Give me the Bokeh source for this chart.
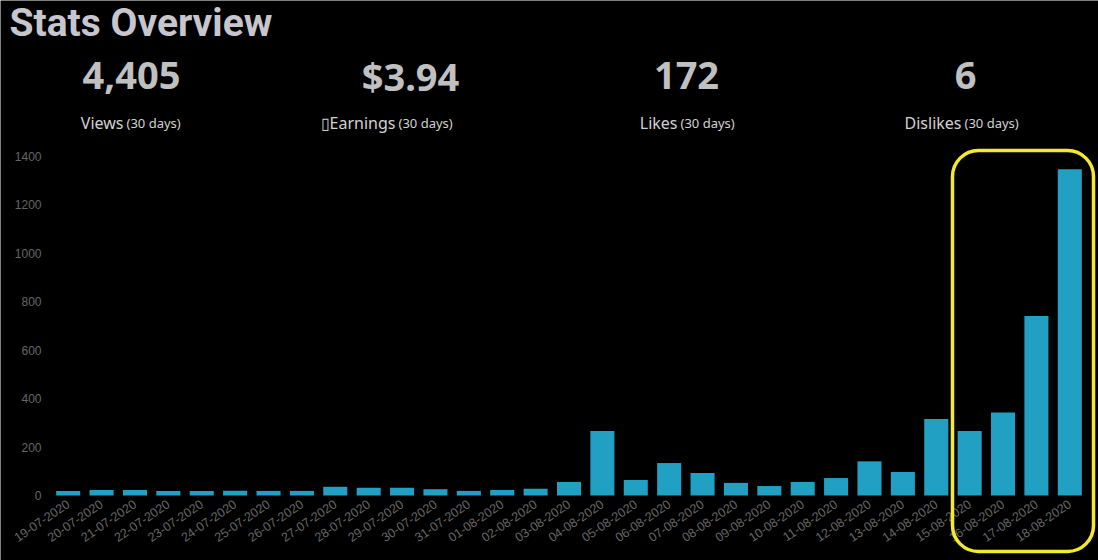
from bokeh.plotting import figure
from bokeh.models import Range1d, Label, BoxAnnotation, FixedTicker
from bokeh.embed import file_html
from bokeh.resources import INLINE

dates = ["19-07-2020", "20-07-2020", "21-07-2020", "22-07-2020", "23-07-2020",
         "24-07-2020", "25-07-2020", "26-07-2020", "27-07-2020", "28-07-2020",
         "29-07-2020", "30-07-2020", "31-07-2020", "01-08-2020", "02-08-2020",
         "03-08-2020", "04-08-2020", "05-08-2020", "06-08-2020", "07-08-2020",
         "08-08-2020", "09-08-2020", "10-08-2020", "11-08-2020", "12-08-2020",
         "13-08-2020", "14-08-2020", "15-08-2020", "16-08-2020", "17-08-2020",
         "18-08-2020"]
views = [19, 23, 23, 19, 19, 20, 19, 19, 36, 32, 32, 26, 19, 23, 28,
         56, 266, 64, 134, 93, 52, 39, 56, 72, 141, 97, 316, 266, 343, 741, 1347]
y_ticks = [0, 200, 400, 600, 800, 1000, 1200, 1400]

title_text = "Stats Overview"
stat_values = ["4,405", "$3.94", "172", "6"]
stat_names = ["Views", "\u25AFEarnings", "Likes", "Dislikes"]
stat_period = "(30 days)"

W, H = 1098, 560
FL, FR, FT, FB = 51, 1086, 156, 495   # chart area edges (canvas px)
n = len(dates)
ymax = y_ticks[-1]
ux = (FR - FL) / n                     # px per category
uy = (FB - FT) / ymax                  # px per view
xr = Range1d(-0.5 - FL / ux, n - 0.5 + (W - FR) / ux)
yr = Range1d(-(H - FB) / uy, ymax + FT / uy)

p = figure(width=W, height=H, x_range=xr, y_range=yr,
           output_backend="svg", toolbar_location=None,
           background_fill_color="black", border_fill_color="black",
           min_border=0)
p.outline_line_color = None

xs = list(range(n))
p.vbar(x=xs, top=views, width=0.72, fill_color="#22a0c4", line_color=None)

p.xgrid.visible = False
p.ygrid.visible = False
for ax in (p.xaxis[0], p.yaxis[0]):
    ax.axis_line_color = None
    ax.major_tick_line_color = None
    ax.minor_tick_line_color = None
    ax.major_tick_out = 0
    ax.major_tick_in = 0
    ax.minor_tick_out = 0
    ax.major_label_text_color = "#666666"
    ax.major_label_text_font = "Liberation Sans"
    ax.major_label_text_font_size = "12px"
p.yaxis.fixed_location = -0.5
p.yaxis.ticker = FixedTicker(ticks=y_ticks)
p.yaxis.major_label_standoff = 10
p.xaxis.fixed_location = 0
p.xaxis.ticker = FixedTicker(ticks=xs)
p.xaxis.major_label_overrides = {i: d for i, d in enumerate(dates)}
p.xaxis.major_label_orientation = 0.6
p.xaxis.major_label_standoff = 7
p.xaxis.major_label_text_font_size = "12.5px"


def lab(cx, cy, text, size, color, align="left", bold=False, font="Noto Sans"):
    p.add_layout(Label(x=cx, y=H - cy, x_units="screen", y_units="screen",
                       text=text, text_font=font, text_font_size=size,
                       text_color=color, text_align=align,
                       text_baseline="alphabetic",
                       text_font_style="bold" if bold else "normal"))


lab(9, 22.5, title_text, "39px", "#c6c6cc", bold=True, font="Roboto")

centers = [131, 410, 686, 965]
for c, v in zip(centers, stat_values):
    lab(c, 75, v, "38px", "#c0c0c0", align="center", bold=True)

name_right = [123, 395, 677, 961]
for r, nm in zip(name_right, stat_names):
    lab(r, 122, nm, "16px", "#d2d2d2", align="right")
    lab(r + 3, 122, stat_period, "13px", "#d2d2d2", align="left")

box = BoxAnnotation(left=952, right=1093, top=H - 150, bottom=H - 551,
                    left_units="screen", right_units="screen",
                    top_units="screen", bottom_units="screen",
                    fill_alpha=0, line_color="#f5ea2a", line_alpha=1.0,
                    line_width=3.5, border_radius=26)
p.add_layout(box)

open("out.html", "w").write(file_html(p, INLINE))
